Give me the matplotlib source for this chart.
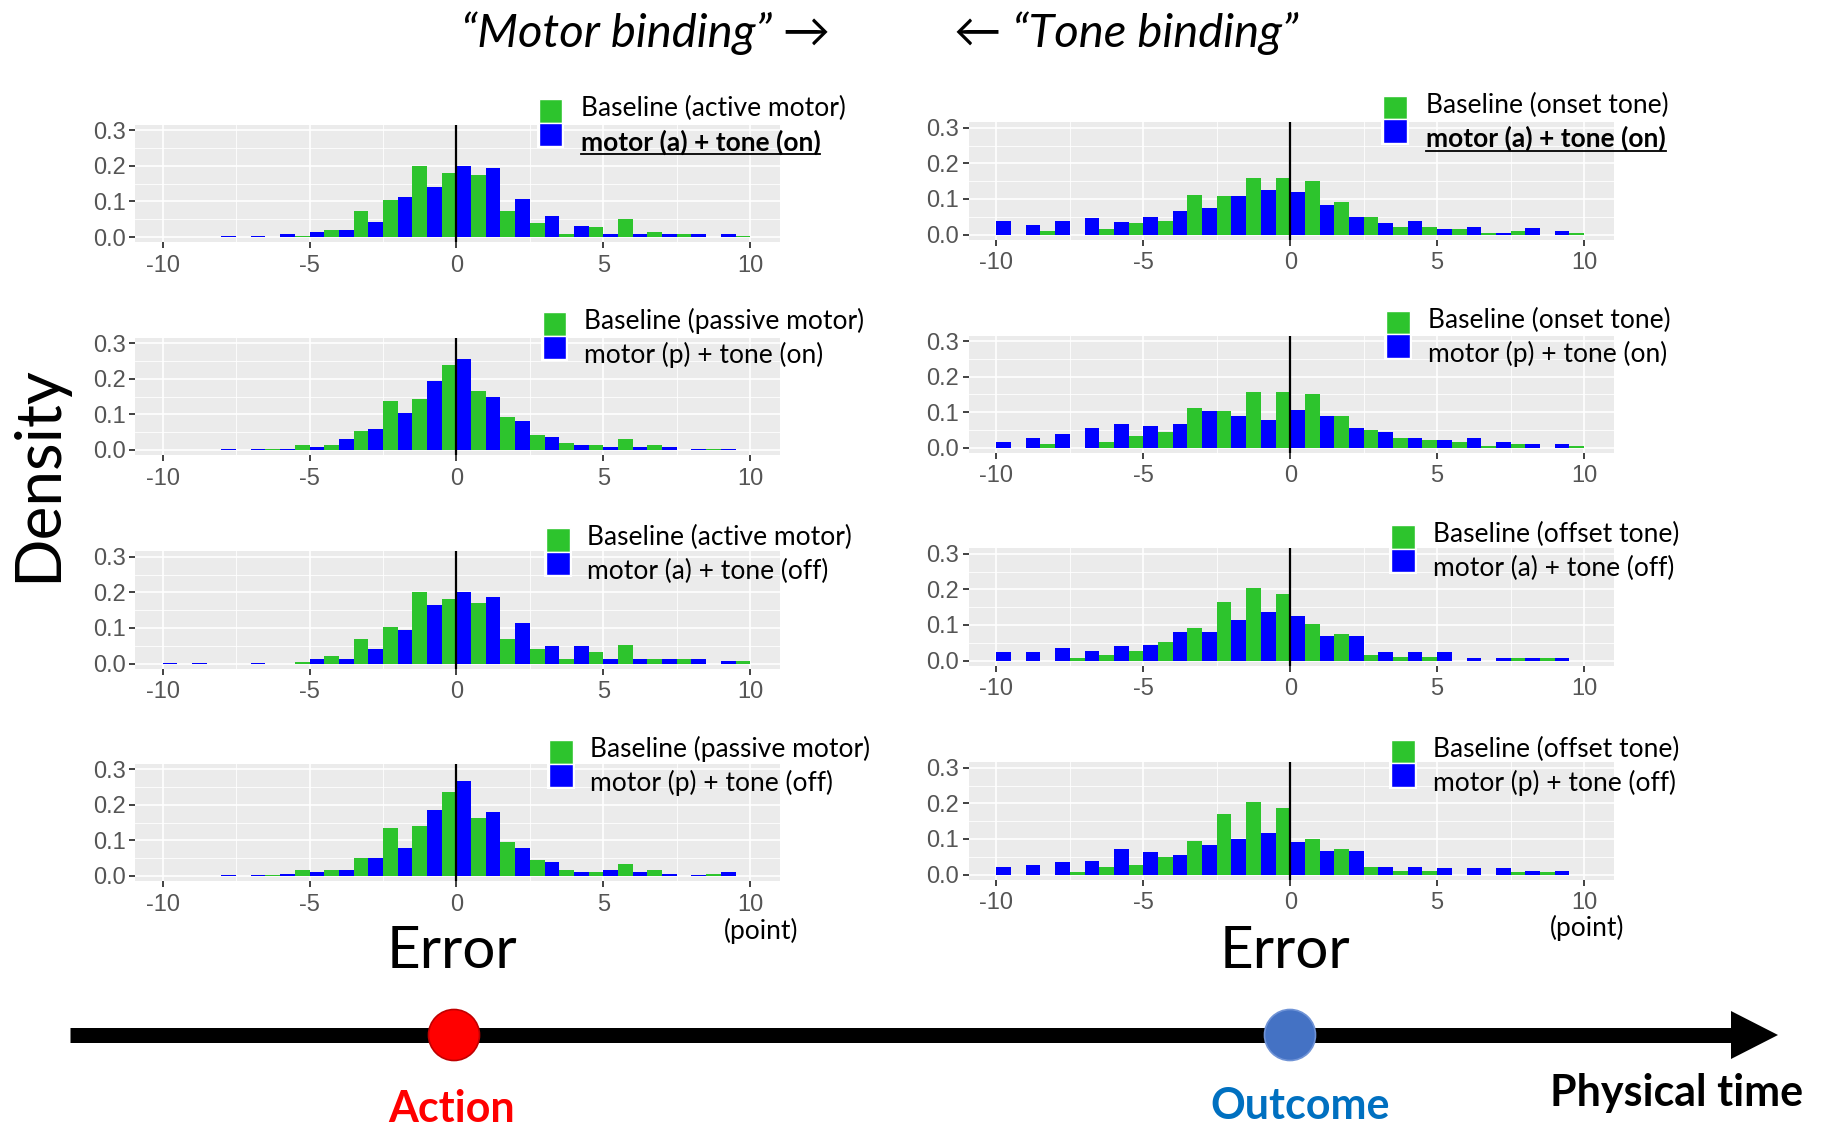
import matplotlib
matplotlib.use('Agg')
import matplotlib.pyplot as plt
from matplotlib.patches import Rectangle, Circle, Polygon
from matplotlib.lines import Line2D
import numpy as np

# ---------------- data ----------------
errors = list(range(-10, 11))   # error bins (points)

# row 1
base_active_1 = [0, 0, 0, 0, 0, 0.004, 0.02, 0.072, 0.105, 0.2, 0.18, 0.175, 0.072, 0.038, 0.008, 0.027, 0.05, 0.015, 0.008, 0, 0.004]
motor_a_tone_on_L = [0, 0, 0.003, 0.003, 0.009, 0.015, 0.02, 0.043, 0.112, 0.14, 0.2, 0.195, 0.107, 0.06, 0.032, 0.008, 0.008, 0.008, 0.008, 0.008, 0]
base_onset_1 = [0, 0, 0.011, 0, 0.016, 0.033, 0.039, 0.112, 0.107, 0.158, 0.158, 0.151, 0.09, 0.05, 0.022, 0.022, 0.016, 0.005, 0.01, 0, 0.005]
motor_a_tone_on_R = [0.039, 0.028, 0.039, 0.045, 0.034, 0.05, 0.067, 0.074, 0.107, 0.124, 0.119, 0.084, 0.05, 0.033, 0.039, 0.016, 0.022, 0.005, 0.017, 0.01, 0]
# row 2
base_passive_1 = [0, 0, 0, 0, 0.004, 0.014, 0.014, 0.053, 0.138, 0.144, 0.24, 0.166, 0.093, 0.042, 0.02, 0.014, 0.031, 0.014, 0, 0.004, 0]
motor_p_tone_on_L = [0, 0, 0.004, 0.004, 0.004, 0.008, 0.031, 0.059, 0.105, 0.194, 0.257, 0.15, 0.082, 0.036, 0.014, 0.008, 0.008, 0.008, 0.004, 0.004, 0]
base_onset_2 = [0, 0, 0.009, 0, 0.017, 0.033, 0.044, 0.112, 0.102, 0.156, 0.156, 0.15, 0.089, 0.05, 0.026, 0.021, 0.017, 0.004, 0.01, 0, 0.004]
motor_p_tone_on_R = [0.017, 0.028, 0.039, 0.056, 0.067, 0.061, 0.067, 0.102, 0.089, 0.078, 0.106, 0.089, 0.056, 0.044, 0.026, 0.021, 0.028, 0.017, 0.01, 0.01, 0]
# row 3
base_active_2 = [0, 0, 0, 0, 0, 0.004, 0.02, 0.07, 0.104, 0.2, 0.182, 0.171, 0.07, 0.041, 0.014, 0.031, 0.053, 0.014, 0.014, 0, 0.006]
motor_a_tone_off_L = [0.002, 0.002, 0, 0.002, 0, 0.014, 0.014, 0.041, 0.093, 0.165, 0.2, 0.188, 0.115, 0.048, 0.048, 0.014, 0.014, 0.014, 0.014, 0.008, 0]
base_offset_1 = [0, 0, 0, 0.006, 0.016, 0.027, 0.051, 0.09, 0.165, 0.205, 0.188, 0.102, 0.074, 0.016, 0.01, 0.01, 0, 0, 0.006, 0.006, 0]
motor_a_tone_off_R = [0.023, 0.023, 0.034, 0.028, 0.04, 0.044, 0.079, 0.079, 0.114, 0.136, 0.125, 0.068, 0.068, 0.023, 0.023, 0.023, 0.006, 0.006, 0.006, 0.006, 0]
# row 4
base_passive_2 = [0, 0, 0, 0, 0.004, 0.017, 0.017, 0.05, 0.136, 0.141, 0.236, 0.164, 0.095, 0.045, 0.017, 0.011, 0.034, 0.017, 0, 0.006, 0]
motor_p_tone_off_L = [0, 0, 0.004, 0.004, 0.005, 0.011, 0.017, 0.05, 0.079, 0.186, 0.266, 0.18, 0.079, 0.039, 0.011, 0.017, 0.011, 0.006, 0.004, 0.011, 0]
base_offset_2 = [0, 0, 0, 0.006, 0.022, 0.028, 0.05, 0.095, 0.169, 0.203, 0.186, 0.101, 0.073, 0.022, 0.011, 0.011, 0, 0, 0.006, 0.006, 0]
motor_p_tone_off_R = [0.022, 0.028, 0.034, 0.039, 0.073, 0.062, 0.056, 0.084, 0.101, 0.118, 0.09, 0.067, 0.067, 0.022, 0.022, 0.017, 0.017, 0.017, 0.011, 0.011, 0]

x_ticks = [-10, -5, 0, 5, 10]
y_ticks = [0.0, 0.1, 0.2, 0.3]
y_tick_labels = ['0.0', '0.1', '0.2', '0.3']

panels = [
    # (col, row, green, blue, label1, label2, bold_underline)
    (0, 0, base_active_1, motor_a_tone_on_L, 'Baseline (active motor)', 'motor (a) + tone (on)', True),
    (1, 0, base_onset_1, motor_a_tone_on_R, 'Baseline (onset tone)', 'motor (a) + tone (on)', True),
    (0, 1, base_passive_1, motor_p_tone_on_L, 'Baseline (passive motor)', 'motor (p) + tone (on)', False),
    (1, 1, base_onset_2, motor_p_tone_on_R, 'Baseline (onset tone)', 'motor (p) + tone (on)', False),
    (0, 2, base_active_2, motor_a_tone_off_L, 'Baseline (active motor)', 'motor (a) + tone (off)', False),
    (1, 2, base_offset_1, motor_a_tone_off_R, 'Baseline (offset tone)', 'motor (a) + tone (off)', False),
    (0, 3, base_passive_2, motor_p_tone_off_L, 'Baseline (passive motor)', 'motor (p) + tone (off)', False),
    (1, 3, base_offset_2, motor_p_tone_off_R, 'Baseline (offset tone)', 'motor (p) + tone (off)', False),
]

# ---------------- layout (pixels, top-left origin) ----------------
W, H, DPI = 1830, 1126, 100
plt.rcParams['font.family'] = ['Liberation Sans', 'DejaVu Sans']
plt.rcParams['axes.unicode_minus'] = False
TXT = ['Lato', 'DejaVu Sans']

GREEN = '#2DC42D'
BLUE = '#0000FF'

col_left = [135.0, 968.8]
col_width = 645.2
row_zero = [[237.0, 450.0, 663.5, 876.0], [234.5, 447.7, 660.5, 874.5]]
px_per_unit_y = 355.6
ylim = (-0.015, 0.315)
xlim = (-10.94, 11.02)

# legend key positions: (square centre x, green square centre y, text x)
legend_pos = {
    (0, 0): (550.5, 111.0, 580.7),
    (1, 0): (1395.0, 107.5, 1426.0),
    (0, 1): (554.3, 324.0, 583.5),
    (1, 1): (1398.0, 322.5, 1428.0),
    (0, 2): (558.0, 540.0, 587.0),
    (1, 2): (1403.0, 537.0, 1433.0),
    (0, 3): (561.0, 752.0, 590.5),
    (1, 3): (1403.0, 751.5, 1433.0),
}

fig = plt.figure(figsize=(W / DPI, H / DPI), dpi=DPI)
fig.patch.set_facecolor('white')


def fx(x):
    return x / W


def fy(y):
    return 1 - y / H


x = np.array(errors)
for (c, r, g, b, lab1, lab2, bold) in panels:
    y0 = row_zero[c][r]
    top = y0 - ylim[1] * px_per_unit_y
    bottom = y0 - ylim[0] * px_per_unit_y
    ax = fig.add_axes([fx(col_left[c]), fy(bottom), col_width / W, (bottom - top) / H])
    ax.set_facecolor('#EBEBEB')
    ax.set_xlim(xlim)
    ax.set_ylim(ylim)
    for s in ax.spines.values():
        s.set_visible(False)
    ax.set_xticks(x_ticks)
    ax.set_xticks([-7.5, -2.5, 2.5, 7.5], minor=True)
    ax.set_yticks(y_ticks)
    ax.set_yticklabels(y_tick_labels)
    ax.set_yticks([0.05, 0.15, 0.25], minor=True)
    ax.grid(which='major', color='white', lw=1.2)
    ax.grid(which='minor', color='white', lw=0.6)
    ax.set_axisbelow(True)
    ax.tick_params(which='major', length=4.3, width=1.3, color='#333333',
                   labelsize=17, labelcolor='#555555')
    ax.tick_params(axis='x', pad=4.5)
    ax.tick_params(axis='y', pad=2.5)
    ax.tick_params(which='minor', length=0)
    ax.bar(x - 0.25, g, width=0.5, color=GREEN, lw=0, zorder=2)
    ax.bar(x + 0.25, b, width=0.5, color=BLUE, lw=0, zorder=2)
    ax.axvline(0, color='black', lw=1.6, zorder=3)

# overlay axes in pixel coordinates for annotations
ov = fig.add_axes([0, 0, 1, 1], zorder=10)
ov.set_xlim(0, W)
ov.set_ylim(H, 0)
ov.axis('off')
ov.patch.set_alpha(0)

under_texts = []
for (c, r, g, b, lab1, lab2, bold) in panels:
    sx, sy, tx = legend_pos[(c, r)]
    sq = 23.5
    ov.add_patch(Rectangle((sx - sq / 2 - 2, sy - sq / 2 - 2), sq + 4, 2 * sq + 4,
                           facecolor='white', edgecolor='none', zorder=1))
    ov.add_patch(Rectangle((sx - sq / 2, sy - sq / 2), sq, sq, facecolor=GREEN,
                           edgecolor='white', lw=1.0, zorder=2))
    ov.add_patch(Rectangle((sx - sq / 2, sy + sq / 2), sq, sq, facecolor=BLUE,
                           edgecolor='white', lw=1.0, zorder=2))
    base1 = sy + 5.5
    base2 = sy + 39.5
    ov.text(tx, base1, lab1, fontsize=19, family=TXT, va='baseline', ha='left', color='black', zorder=3)
    t2 = ov.text(tx, base2, lab2, fontsize=19, family=TXT, va='baseline', ha='left', color='black',
                 fontweight='bold' if bold else 'normal', zorder=3)
    if bold:
        under_texts.append((t2, base2))

# headings
ov.text(646, 47, '\u201cMotor binding\u201d \u2192', fontsize=34, family=TXT, style='italic',
        ha='center', va='baseline')
ov.text(1126, 47, '\u2190 \u201cTone binding\u201d', fontsize=34, family=TXT, style='italic',
        ha='center', va='baseline')

# axis titles
ov.text(38, 474, 'Density', fontsize=46, family=TXT, rotation=90, ha='center', va='center')
ov.text(452, 968, 'Error', fontsize=42, family=TXT, ha='center', va='baseline')
ov.text(1285, 968, 'Error', fontsize=42, family=TXT, ha='center', va='baseline')
ov.text(761, 931, '(point)', fontsize=19, family=TXT, ha='center', va='center')
ov.text(1587, 928, '(point)', fontsize=19, family=TXT, ha='center', va='center')

# timeline
ov.add_line(Line2D([70, 1736], [1035, 1035], color='black', lw=15 * 72 / DPI,
                   solid_capstyle='butt', zorder=2))
ov.add_patch(Polygon([[1731, 1011], [1778, 1035], [1731, 1059]], closed=True,
                     facecolor='black', edgecolor='none', zorder=2))
ov.add_patch(Circle((454, 1035), 25.5, facecolor='#FF0000', edgecolor='#C00000', lw=1.2, zorder=3))
ov.add_patch(Circle((1290, 1035), 25.5, facecolor='#4472C4', edgecolor='#6F93D6', lw=1.2, zorder=3))
ov.text(452, 1122, 'Action', fontsize=31, family=TXT, fontweight='bold', color='#FF0000',
        ha='center', va='baseline')
ov.text(1300, 1119, 'Outcome', fontsize=31, family=TXT, fontweight='bold', color='#0070C0',
        ha='center', va='baseline')
ov.text(1677, 1106, 'Physical time', fontsize=31, family=TXT, fontweight='bold', color='black',
        ha='center', va='baseline')

# underline the bold legend labels
fig.canvas.draw()
renderer = fig.canvas.get_renderer()
inv = ov.transData.inverted()
for t, base in under_texts:
    bb = t.get_window_extent(renderer)
    (x0, _), (x1, _) = inv.transform([[bb.x0, bb.y0], [bb.x1, bb.y0]])
    ov.add_line(Line2D([x0, x1], [base + 3.5, base + 3.5], color='black', lw=1.3, zorder=3))

fig.savefig('out.png', dpi=DPI, facecolor='white')
